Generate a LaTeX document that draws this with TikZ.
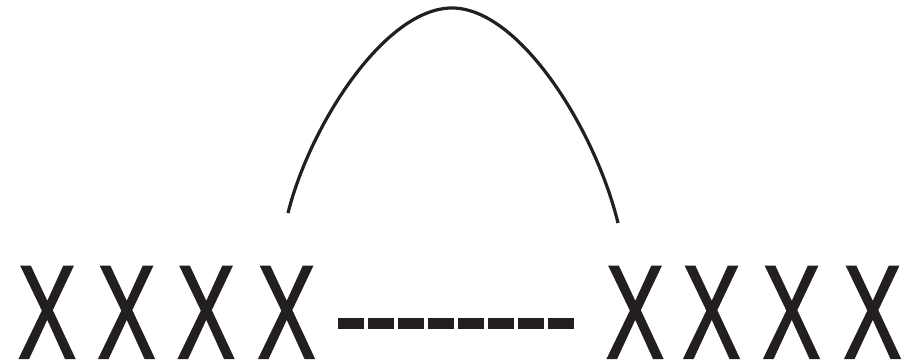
\documentclass[tikz,border=0pt]{standalone}
\usepackage{fontspec}
\setmainfont{Liberation Sans}
\newfontfamily\xfont{Liberation Sans}[FakeBold=1.5]
\definecolor{ink}{HTML}{231F20}
\tikzset{
  xletter/.style={anchor=base, inner sep=0pt, text=ink,
    font=\xfont\fontsize{132.7}{140}\selectfont},
  dashbar/.style={draw=ink, line width=11pt, dash pattern=on 26pt off 4pt},
  arcline/.style={draw=ink, line width=3.2pt}
}
\newcommand{\narrowX}{\scalebox{0.66}[1]{X}}
\begin{document}
\begin{tikzpicture}[x=1pt,y=-1pt]
\useasboundingbox (0,0) rectangle (911,364);
% left group
\node[xletter] (l1) at (47,358) {\narrowX};
\node[xletter] (l2) at (126.5,358) {\narrowX};
\node[xletter] (l3) at (206,358) {\narrowX};
\node[xletter] (l4) at (286.5,358) {\narrowX};
% right group
\node[xletter] (r1) at (635,358) {\narrowX};
\node[xletter] (r2) at (711.5,358) {\narrowX};
\node[xletter] (r3) at (791.5,358) {\narrowX};
\node[xletter] (r4) at (872.5,358) {\narrowX};
% dashed bar
\coordinate (ds) at (338,323.5);
\coordinate (de) at (573.9,323.5);
\draw[dashbar] (ds) -- (de);
% arc
\coordinate (as) at (288,213);
\coordinate (ap) at (452,8);
\coordinate (ae) at (618,223);
\draw[arcline] (as) .. controls (310,125) and (385,8) .. (ap)
  .. controls (519.8,8) and (595.7,130.7) .. (ae);
\end{tikzpicture}
\end{document}
